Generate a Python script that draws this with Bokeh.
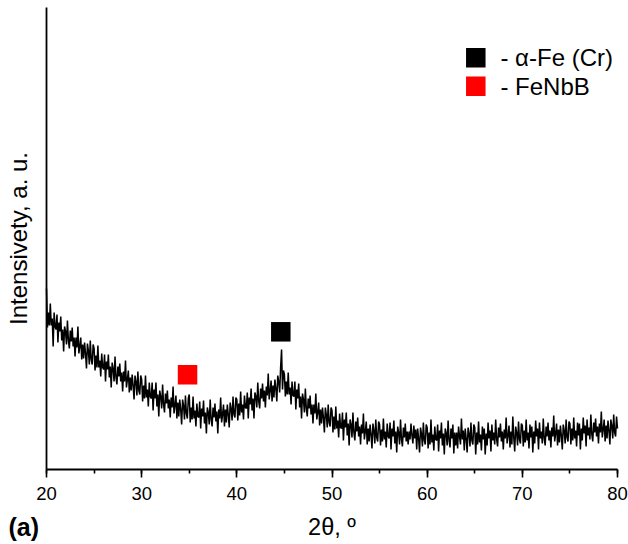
import numpy as np
from bokeh.plotting import figure
from bokeh.models import Range1d, SingleIntervalTicker, FixedTicker, Label
from bokeh.core.properties import value
from bokeh.embed import file_html
from bokeh.resources import INLINE

# XRD intensity (a.u.), 2theta = 20.0 ... 80.0 step 0.1
intensity = [
    178, 139, 154, 141, 163, 141, 148, 120, 154, 140,   # 20
    137, 152, 124, 144, 135, 150, 126, 137, 115, 140,   # 21
    135, 122, 146, 126, 118, 136, 125, 139, 120, 129,   # 22
    110, 129, 119, 140, 113, 120, 129, 107, 122, 108,   # 23
    124, 113, 98, 123, 116, 102, 126, 107, 102, 122,    # 24
    118, 96, 111, 99, 121, 99, 106, 90, 113, 99,        # 25
    97, 112, 85, 105, 97, 112, 89, 100, 79, 104,        # 26
    98, 85, 110, 89, 82, 100, 90, 103, 85, 94,          # 27
    75, 95, 85, 106, 79, 87, 96, 74, 89, 76,            # 28
    92, 81, 67, 91, 85, 71, 95, 76, 72, 91,             # 29
    87, 65, 81, 68, 91, 69, 77, 60, 84, 70,             # 30
    68, 84, 56, 77, 68, 84, 60, 72, 50, 76,             # 31
    70, 58, 82, 62, 54, 73, 63, 76, 58, 67,             # 32
    49, 69, 59, 80, 53, 61, 71, 48, 64, 50,             # 33
    67, 57, 42, 67, 61, 47, 71, 53, 48, 68,             # 34
    72, 44, 59, 47, 70, 48, 56, 40, 63, 50,             # 35
    49, 65, 38, 58, 50, 66, 43, 54, 33, 59,             # 36
    54, 42, 67, 47, 40, 59, 49, 63, 45, 55,             # 37
    33, 57, 48, 69, 44, 52, 62, 40, 57, 44,             # 38
    62, 52, 39, 64, 58, 46, 70, 52, 49, 69,             # 39
    67, 46, 63, 51, 75, 54, 62, 47, 71, 59,             # 40
    58, 74, 48, 69, 62, 78, 56, 68, 48, 74,             # 41
    70, 59, 84, 65, 58, 78, 68, 83, 65, 76,             # 42
    59, 80, 71, 93, 67, 76, 86, 65, 81, 69,             # 43
    87, 78, 65, 91, 85, 74, 99, 117, 77, 96,            # 44
    92, 70, 85, 72, 94, 72, 79, 62, 85, 71,             # 45
    70, 85, 57, 77, 68, 83, 59, 70, 48, 73,             # 46
    67, 54, 78, 58, 50, 68, 58, 71, 52, 62,             # 47
    43, 62, 53, 73, 47, 54, 64, 41, 57, 43,             # 48
    59, 49, 34, 59, 52, 39, 62, 44, 40, 59,             # 49
    56, 34, 50, 37, 60, 38, 46, 29, 53, 39,             # 50
    38, 54, 26, 47, 39, 54, 31, 43, 21, 47,             # 51
    42, 29, 54, 34, 26, 45, 35, 49, 30, 40,             # 52
    22, 42, 33, 53, 27, 35, 45, 22, 38, 25,             # 53
    42, 32, 18, 43, 36, 23, 47, 29, 25, 45,             # 54
    42, 21, 37, 25, 48, 27, 35, 19, 43, 30,             # 55
    28, 44, 17, 38, 30, 46, 23, 35, 14, 40,             # 56
    34, 22, 47, 27, 20, 39, 29, 43, 25, 35,             # 57
    22, 35, 27, 43, 31, 23, 41, 28, 37, 17,             # 58
    38, 28, 14, 39, 33, 20, 44, 26, 22, 42,             # 59
    39, 18, 34, 22, 47, 24, 32, 16, 40, 27,             # 60
    26, 42, 15, 36, 28, 44, 21, 33, 12, 38,             # 61
    33, 21, 46, 26, 19, 38, 28, 42, 13, 34,             # 62
    21, 34, 18, 40, 30, 22, 48, 27, 36, 16,             # 63
    38, 28, 14, 39, 33, 20, 44, 26, 22, 42,             # 64
    39, 12, 34, 22, 45, 24, 32, 16, 40, 27,             # 65
    38, 12, 33, 21, 44, 28, 36, 15, 42, 26,             # 66
    34, 22, 47, 27, 20, 39, 29, 43, 25, 35,             # 67
    17, 37, 28, 49, 23, 31, 41, 19, 35, 22,             # 68
    50, 29, 15, 40, 34, 21, 45, 27, 23, 43,             # 69
    41, 20, 36, 24, 47, 26, 34, 18, 42, 29,             # 70
    40, 14, 35, 23, 46, 30, 38, 17, 44, 28,             # 71
    35, 23, 48, 28, 21, 40, 30, 44, 26, 36,             # 72
    19, 39, 30, 51, 25, 33, 43, 21, 37, 24,             # 73
    41, 31, 17, 42, 36, 23, 47, 29, 25, 45,             # 74
    43, 22, 38, 26, 49, 28, 36, 20, 44, 31,             # 75
    43, 17, 38, 26, 49, 33, 41, 20, 47, 31,             # 76
    39, 27, 52, 32, 25, 44, 34, 48, 30, 40,             # 77
    23, 43, 34, 55, 29, 37, 47, 25, 41, 28,             # 78
    46, 36, 22, 47, 41, 28, 52, 34, 30, 50,             # 79
    38,                                                 # 80
]
two_theta = np.linspace(20.0, 80.0, len(intensity))

# phase markers placed above the peaks
phase_names = ["- α-Fe (Cr)", "- FeNbB"]
phase_colors = ["#000000", "#ff0000"]
phase_peak_2theta = [44.62, 34.82]
phase_marker_height = [134.7, 91.8]

x_start, x_end, x_tick_interval = 20, 80, 10
y_axis_bottom, y_axis_top = -3, 459

FONT = "Liberation Sans"

# the frame covers the whole canvas; axes are pinned with fixed_location
p = figure(width=628, height=544, output_backend="svg", toolbar_location=None,
           x_range=Range1d(15.166, 81.156), y_range=Range1d(-78, 466),
           min_border=0, min_border_left=0, min_border_right=0,
           min_border_top=0, min_border_bottom=0)
p.outline_line_color = None
p.background_fill_color = "white"
p.border_fill_color = "white"
p.xgrid.visible = False
p.ygrid.visible = False

# data line
p.line(two_theta, intensity, line_color="black", line_width=1.5)

# phase markers
p.scatter(phase_peak_2theta, phase_marker_height, marker="square", size=19.5,
          fill_color=phase_colors, line_color=None)

# legend (manual)
legend_x = [65.11, 65.11]
legend_y = [408.8, 380.3]
legend_text_x = [67.7, 67.7]
p.scatter(legend_x, legend_y, marker="square", size=19.5,
          fill_color=phase_colors, line_color=None)
p.text(legend_text_x, legend_y, text=phase_names, text_font=value(FONT),
       text_font_size=value("24px"), text_baseline="middle", text_align="left",
       text_color="black")

# x axis
xa = p.xaxis[0]
xa.fixed_location = y_axis_bottom
xa.bounds = (x_start, x_end)
xa.ticker = SingleIntervalTicker(interval=x_tick_interval, num_minor_ticks=2)
xa.axis_line_width = 1.8
xa.axis_line_color = "black"
xa.major_tick_in = 0
xa.major_tick_out = 8
xa.minor_tick_in = 0
xa.minor_tick_out = 4
xa.major_tick_line_width = 1.6
xa.minor_tick_line_width = 1.6
xa.major_label_standoff = 9
xa.major_label_text_font = FONT
xa.major_label_text_font_size = "18.5px"
xa.major_label_text_color = "black"
xa.axis_label = "2θ, º"
xa.axis_label_text_font = FONT
xa.axis_label_text_font_size = "23.5px"
xa.axis_label_text_font_style = "normal"
xa.axis_label_text_color = "black"
xa.axis_label_standoff = 11

# y axis
ya = p.yaxis[0]
ya.fixed_location = x_start
ya.bounds = (y_axis_bottom, y_axis_top)
ya.ticker = FixedTicker(ticks=[])
ya.axis_line_width = 1.8
ya.axis_line_color = "black"
ya.major_tick_out = 0
ya.major_tick_in = 0
ya.minor_tick_out = 0
ya.minor_tick_in = 0
ya.axis_label = "Intensivety, a. u."
ya.axis_label_text_font = FONT
ya.axis_label_text_font_size = "24px"
ya.axis_label_text_font_style = "normal"
ya.axis_label_text_color = "black"
ya.axis_label_standoff = 15

# panel tag
p.add_layout(Label(x=16.007, y=-60.5, text="(a)", text_font=FONT,
                   text_font_size="25px", text_font_style="bold",
                   text_baseline="middle", text_align="left", text_color="black"))

open("out.html", "w").write(file_html(p, INLINE))
